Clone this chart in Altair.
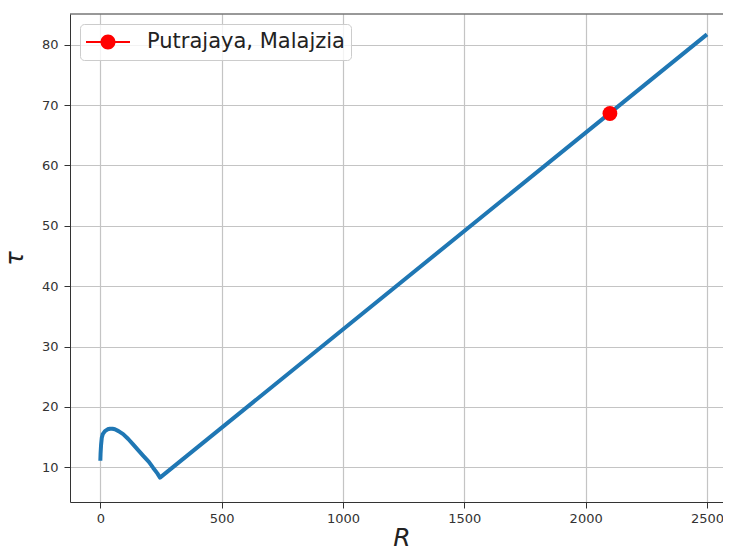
import altair as alt
import pandas as pd

# curve
R_vals = [0, 1, 3, 6, 10, 19, 30, 40, 50, 60, 75, 94, 115, 135, 155, 177, 200, 218, 235, 246, 2500]
tau_vals = [11.1, 12.3, 13.7, 14.9, 15.5, 16.0, 16.3, 16.4, 16.4, 16.3, 16.0, 15.5, 14.7, 13.8, 12.9, 11.9,
            10.9, 9.9, 9.0, 8.3, 81.7]

# highlighted city
city_R = [2100]
city_tau = [68.6]
city_label = ["Putrajaya, Malajzia"]

x_ticks = [0, 500, 1000, 1500, 2000, 2500]
y_ticks = [10, 20, 30, 40, 50, 60, 70, 80]

df_line = pd.DataFrame({"R": R_vals, "tau": tau_vals})
df_pt = pd.DataFrame({"R": city_R, "tau": city_tau, "label": city_label})

W, H = 653, 488
FONT = "DejaVu Sans"

xscale = alt.Scale(domain=[-125, 2566], nice=False, zero=False)
yscale = alt.Scale(domain=[4.26, 85.08], nice=False, zero=False)

xaxis = alt.Axis(values=x_ticks, format="d", title="R", titleFontStyle="italic", titleFontSize=25,
                 titleFontWeight="normal", titleFont=FONT, titleColor="#222222",
                 titleBaseline="alphabetic", titleY=43, titleX=W / 2 + 5,
                 labelFont=FONT, labelFontSize=13, labelColor="#333333", labelPadding=4,
                 tickSize=6, tickColor="#333333", domainColor="#333333",
                 grid=True, gridColor="#c4c4c4", gridWidth=1.2, labelFlush=False)
yaxis = alt.Axis(values=y_ticks, format="d", title="τ", titleFontStyle="italic", titleFontSize=24,
                 titleFontWeight="normal", titleFont=FONT, titleColor="#222222",
                 titleX=-48, titleY=H / 2, titleBaseline="alphabetic", titleAngle=270,
                 labelFont=FONT, labelFontSize=13, labelColor="#333333", labelPadding=6,
                 tickSize=6, tickColor="#333333", domainColor="#333333",
                 grid=True, gridColor="#c4c4c4", gridWidth=1.2, labelFlush=False)

line = alt.Chart(df_line).mark_line(color="#1f77b4", strokeWidth=4, strokeJoin="round").encode(
    x=alt.X("R:Q", scale=xscale, axis=xaxis),
    y=alt.Y("tau:Q", scale=yscale, axis=yaxis),
)

legend_path = ("M-1,-0.05L1,-0.05L1,0.05L-1,0.05Z"
               "M0.34,0A0.34,0.34,0,1,1,-0.34,0A0.34,0.34,0,1,1,0.34,0Z")

point = alt.Chart(df_pt).mark_point(filled=True, shape="circle", size=220, opacity=1).encode(
    x=alt.X("R:Q", scale=xscale),
    y=alt.Y("tau:Q", scale=yscale),
    color=alt.Color("label:N", scale=alt.Scale(range=["#ff0000"]),
                    legend=alt.Legend(title=None, orient="top-left", offset=10,
                                      symbolType=legend_path, symbolSize=1936,
                                      symbolStrokeWidth=0, symbolOpacity=1, clipHeight=24,
                                      labelFont=FONT, labelFontSize=21, labelColor="#222222",
                                      labelOffset=17, labelLimit=400, padding=6,
                                      fillColor="rgba(255,255,255,0.8)", strokeColor="#cccccc",
                                      cornerRadius=4)),
)

top_border = alt.Chart(df_pt).mark_rule(color="#333333", strokeWidth=1).encode(
    x=alt.value(0), x2=alt.value(W), y=alt.value(0)
)

chart = alt.layer(line, point, top_border).properties(
    width=W, height=H,
    autosize=alt.AutoSizeParams(type="none"),
    padding={"left": 62, "top": 6, "right": 0, "bottom": 50},
    background="white",
).configure_view(stroke=None)

chart.save("out.html", embed_options={"renderer": "svg", "actions": False})
